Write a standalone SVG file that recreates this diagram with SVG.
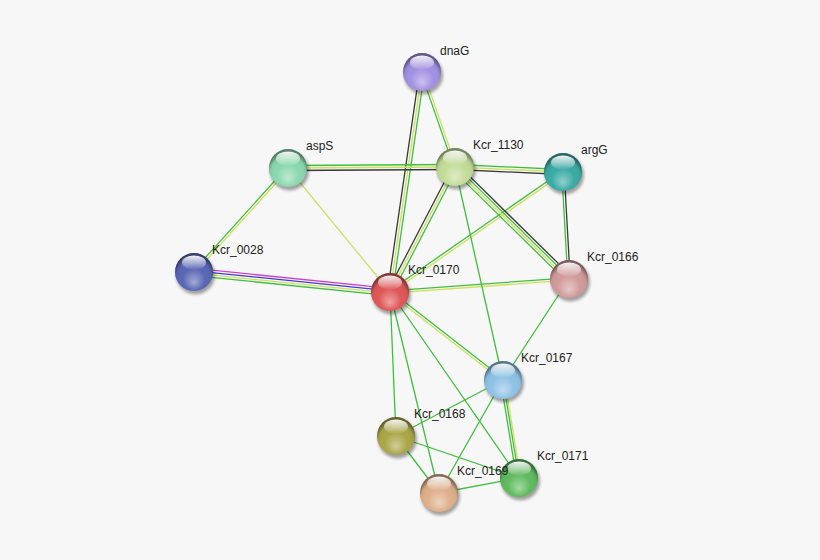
<svg xmlns="http://www.w3.org/2000/svg" xmlns:xlink="http://www.w3.org/1999/xlink" width="820" height="560" viewBox="0 0 820 560">
<style>
.e line{stroke-width:1.3;stroke-linecap:round}
.g{stroke:#3fbf3f}
.y{stroke:#cfe060}
.k{stroke:#3a3a3a}
.m{stroke:#d040d0}
.b{stroke:#3c3cd8}
text{font-family:"Liberation Sans",Arial,sans-serif;font-size:12px;fill:#222}
</style>
<defs>
<radialGradient id="shade" cx="50%" cy="62%" r="55%" fx="50%" fy="78%">
<stop offset="0" stop-color="#fff" stop-opacity="0.45"/>
<stop offset="0.55" stop-color="#fff" stop-opacity="0"/>
<stop offset="0.85" stop-color="#000" stop-opacity="0.06"/>
<stop offset="1" stop-color="#000" stop-opacity="0.4"/>
</radialGradient>
<linearGradient id="hl" x1="0" y1="0" x2="0" y2="1">
<stop offset="0" stop-color="#fff" stop-opacity="0.95"/>
<stop offset="1" stop-color="#fff" stop-opacity="0.05"/>
</linearGradient>
<filter id="blur" x="-50%" y="-50%" width="200%" height="200%"><feGaussianBlur stdDeviation="1.6"/></filter>
<circle id="shadow" cx="1.5" cy="3" r="19.5" fill="#000" opacity="0.35" filter="url(#blur)"/>
<g id="gloss"><circle r="19" fill="url(#shade)"/><ellipse cy="-9.5" rx="12" ry="7" fill="url(#hl)"/></g>
</defs>
<rect width="820" height="560" fill="#f7f7f7"/>
<g id="edges" class="e">
<line class="k" x1="419.5" y1="71.6" x2="387.5" y2="291.6"/>
<line class="y" x1="422" y1="72" x2="390" y2="292"/>
<line class="g" x1="424.5" y1="72.4" x2="392.5" y2="292.4"/>
<line class="g" x1="420.9" y1="72.4" x2="453.9" y2="167.4"/>
<line class="y" x1="423.1" y1="71.6" x2="456.1" y2="166.6"/>
<line class="g" x1="288" y1="165.5" x2="455" y2="164.5"/>
<line class="y" x1="288" y1="168" x2="455" y2="167"/>
<line class="k" x1="288" y1="170.5" x2="455" y2="169.5"/>
<line class="g" x1="455" y1="164.5" x2="563" y2="169.5"/>
<line class="y" x1="455" y1="167" x2="563" y2="172"/>
<line class="k" x1="455" y1="169.5" x2="563" y2="174.5"/>
<line class="g" x1="287.1" y1="167.2" x2="193.1" y2="271.2"/>
<line class="y" x1="288.9" y1="168.8" x2="194.9" y2="272.8"/>
<line class="y" x1="288" y1="168" x2="390" y2="292"/>
<line class="m" x1="194.4" y1="268.4" x2="390.4" y2="288.4"/>
<line class="b" x1="194.1" y1="270.8" x2="390.1" y2="290.8"/>
<line class="y" x1="193.9" y1="273.2" x2="389.9" y2="293.2"/>
<line class="g" x1="193.6" y1="275.6" x2="389.6" y2="295.6"/>
<line class="k" x1="452.8" y1="165.8" x2="387.8" y2="290.8"/>
<line class="y" x1="455" y1="167" x2="390" y2="292"/>
<line class="g" x1="457.2" y1="168.2" x2="392.2" y2="293.2"/>
<line class="g" x1="562.3" y1="171" x2="389.3" y2="291"/>
<line class="y" x1="563.7" y1="173" x2="390.7" y2="293"/>
<line class="k" x1="457.5" y1="164.4" x2="571.5" y2="276.4"/>
<line class="g" x1="455.8" y1="166.1" x2="569.8" y2="278.1"/>
<line class="y" x1="454.2" y1="167.9" x2="568.2" y2="279.9"/>
<line class="g" x1="452.5" y1="169.6" x2="566.5" y2="281.6"/>
<line class="g" x1="561.8" y1="172" x2="567.8" y2="279"/>
<line class="k" x1="564.2" y1="172" x2="570.2" y2="279"/>
<line class="g" x1="389.9" y1="290.8" x2="568.9" y2="277.8"/>
<line class="y" x1="390.1" y1="293.2" x2="569.1" y2="280.2"/>
<line class="g" x1="455" y1="167" x2="503" y2="380"/>
<line class="g" x1="569" y1="279" x2="503" y2="380"/>
<line class="g" x1="390.7" y1="291" x2="503.7" y2="379"/>
<line class="y" x1="389.3" y1="293" x2="502.3" y2="381"/>
<line class="g" x1="390" y1="292" x2="396" y2="436"/>
<line class="g" x1="390" y1="292" x2="439" y2="493"/>
<line class="g" x1="390" y1="292" x2="519" y2="478"/>
<line class="g" x1="503" y1="380" x2="396" y2="436"/>
<line class="g" x1="503" y1="380" x2="439" y2="493"/>
<line class="g" x1="500.6" y1="380.4" x2="516.6" y2="478.4"/>
<line class="g" x1="503" y1="380" x2="519" y2="478"/>
<line class="y" x1="504.6" y1="379.7" x2="520.6" y2="477.7"/>
<line class="g" x1="396" y1="436" x2="439" y2="493"/>
<line class="g" x1="396" y1="436" x2="519" y2="478"/>
<line class="g" x1="439" y1="493" x2="519" y2="478"/>
</g>
<g id="node-dnaG" transform="translate(422,72)"><use href="#shadow"/><circle r="19" fill="#a290e2"/><use href="#gloss"/><text x="18" y="-17">dnaG</text></g>
<g id="node-Kcr_1130" transform="translate(455,167)"><use href="#shadow"/><circle r="19" fill="#c2dc98"/><use href="#gloss"/><text x="18" y="-18">Kcr_1130</text></g>
<g id="node-aspS" transform="translate(288,168)"><use href="#shadow"/><circle r="19" fill="#8ad8ae"/><use href="#gloss"/><text x="18" y="-18">aspS</text></g>
<g id="node-argG" transform="translate(563,172)"><use href="#shadow"/><circle r="19" fill="#3aaaa4"/><use href="#gloss"/><text x="18" y="-18">argG</text></g>
<g id="node-Kcr_0028" transform="translate(194,272)"><use href="#shadow"/><circle r="19" fill="#5866b4"/><use href="#gloss"/><text x="18" y="-18">Kcr_0028</text></g>
<g id="node-Kcr_0166" transform="translate(569,279)"><use href="#shadow"/><circle r="19" fill="#d29a9a"/><use href="#gloss"/><text x="18" y="-18">Kcr_0166</text></g>
<g id="node-Kcr_0170" transform="translate(390,292)"><use href="#shadow"/><circle r="19" fill="#df5656"/><use href="#gloss"/><text x="18" y="-18">Kcr_0170</text></g>
<g id="node-Kcr_0167" transform="translate(503,380)"><use href="#shadow"/><circle r="19" fill="#8ec2e4"/><use href="#gloss"/><text x="18" y="-18">Kcr_0167</text></g>
<g id="node-Kcr_0168" transform="translate(396,436)"><use href="#shadow"/><circle r="19" fill="#aaa648"/><use href="#gloss"/><text x="18" y="-18">Kcr_0168</text></g>
<g id="node-Kcr_0171" transform="translate(519,478)"><use href="#shadow"/><circle r="19" fill="#5eba5e"/><use href="#gloss"/><text x="18" y="-18">Kcr_0171</text></g>
<g id="node-Kcr_0169" transform="translate(439,493)"><use href="#shadow"/><circle r="19" fill="#deb08a"/><use href="#gloss"/><text x="18" y="-18">Kcr_0169</text></g>
</svg>
